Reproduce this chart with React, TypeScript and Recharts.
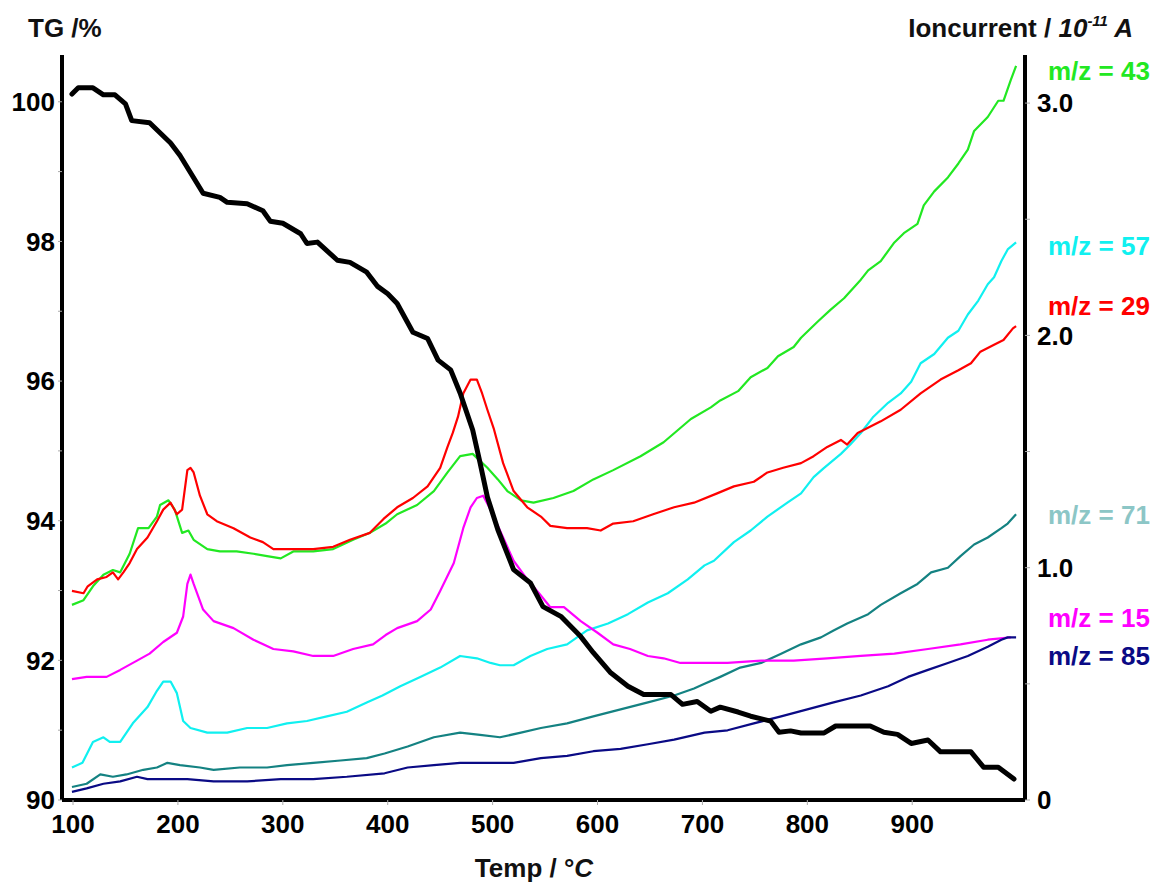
import { LineChart, Line, XAxis, YAxis } from "recharts";

const FONT = "'Liberation Sans', Arial, Helvetica, sans-serif";

// axis ticks
const tempTicks = [100, 200, 300, 400, 500, 600, 700, 800, 900];
const tgTicks = [90, 91, 92, 93, 94, 95, 96, 97, 98, 99, 100];
const ionTicks = [0, 0.5, 1, 1.5, 2, 2.5, 3];

// TG curve (%), left axis
const tgTemp = [99, 105, 119, 129, 140, 150, 156, 173, 193, 202, 224, 240, 247, 266, 281, 288, 300, 317, 323, 333, 352, 364, 380, 390, 400, 409, 424, 438, 448, 460, 469, 481, 488, 495, 505, 520, 536, 548, 565, 584, 596, 612, 629, 644, 670, 681, 695, 708, 717, 734, 746, 765, 773, 784, 794, 816, 827, 860, 873, 886, 899, 915, 927, 956, 968, 982, 997];
const tgValue = [100.11, 100.2, 100.2, 100.1, 100.1, 99.97, 99.73, 99.7, 99.41, 99.23, 98.69, 98.63, 98.56, 98.54, 98.44, 98.29, 98.26, 98.11, 97.97, 97.99, 97.73, 97.7, 97.56, 97.36, 97.25, 97.11, 96.7, 96.61, 96.3, 96.16, 95.83, 95.3, 94.83, 94.34, 93.87, 93.3, 93.11, 92.77, 92.63, 92.34, 92.11, 91.83, 91.63, 91.51, 91.51, 91.37, 91.41, 91.27, 91.33, 91.26, 91.2, 91.13, 90.97, 90.99, 90.96, 90.96, 91.06, 91.06, 90.97, 90.94, 90.81, 90.86, 90.69, 90.69, 90.47, 90.47, 90.3];

// ion currents (10^-11 A), right axis
const m43Temp = [99, 110, 119, 129, 138, 145, 154, 162, 172, 180, 183, 191, 197, 204, 210, 215, 228, 240, 256, 272, 285, 298, 310, 329, 348, 367, 383, 398, 409, 428, 444, 457, 469, 481, 488, 495, 505, 514, 527, 539, 558, 577, 596, 615, 641, 663, 689, 708, 717, 734, 746, 762, 772, 787, 794, 810, 822, 835, 851, 858, 870, 883, 892, 905, 911, 921, 934, 944, 953, 959, 972, 982, 987, 994, 999];
const m43Value = [0.84, 0.86, 0.92, 0.97, 0.99, 0.98, 1.06, 1.17, 1.17, 1.22, 1.27, 1.29, 1.25, 1.15, 1.16, 1.12, 1.08, 1.07, 1.07, 1.06, 1.05, 1.04, 1.07, 1.07, 1.08, 1.12, 1.15, 1.19, 1.23, 1.27, 1.33, 1.41, 1.48, 1.49, 1.46, 1.43, 1.38, 1.33, 1.29, 1.28, 1.3, 1.33, 1.38, 1.42, 1.48, 1.54, 1.64, 1.69, 1.72, 1.76, 1.82, 1.86, 1.91, 1.95, 1.99, 2.06, 2.11, 2.16, 2.24, 2.28, 2.32, 2.4, 2.44, 2.48, 2.56, 2.62, 2.68, 2.74, 2.8, 2.88, 2.94, 3.01, 3.01, 3.1, 3.16];

const m29Temp = [99, 110, 114, 123, 132, 138, 143, 148, 154, 161, 171, 180, 186, 193, 199, 204, 209, 212, 215, 221, 228, 237, 253, 269, 281, 291, 310, 329, 348, 364, 383, 396, 409, 424, 438, 450, 457, 462, 467, 472, 479, 485, 490, 495, 501, 510, 520, 533, 546, 555, 571, 590, 603, 615, 634, 653, 673, 692, 714, 730, 749, 762, 777, 794, 806, 819, 832, 838, 848, 870, 889, 908, 927, 944, 956, 965, 978, 987, 996, 999];
const m29Value = [0.9, 0.89, 0.92, 0.95, 0.96, 0.98, 0.95, 0.98, 1.02, 1.08, 1.13, 1.2, 1.25, 1.28, 1.23, 1.25, 1.42, 1.43, 1.41, 1.31, 1.23, 1.2, 1.17, 1.13, 1.11, 1.08, 1.08, 1.08, 1.09, 1.12, 1.15, 1.21, 1.26, 1.3, 1.35, 1.43, 1.52, 1.58, 1.65, 1.75, 1.81, 1.81, 1.75, 1.68, 1.6, 1.45, 1.33, 1.26, 1.22, 1.18, 1.17, 1.17, 1.16, 1.19, 1.2, 1.23, 1.26, 1.28, 1.32, 1.35, 1.37, 1.41, 1.43, 1.45, 1.48, 1.52, 1.55, 1.53, 1.58, 1.63, 1.68, 1.75, 1.81, 1.85, 1.88, 1.93, 1.96, 1.98, 2.03, 2.04];

const m15Temp = [99, 113, 132, 145, 161, 173, 186, 199, 205, 209, 212, 215, 224, 234, 253, 272, 291, 310, 329, 348, 367, 386, 398, 409, 428, 441, 450, 463, 472, 479, 485, 491, 498, 507, 520, 533, 546, 555, 568, 584, 600, 615, 631, 648, 663, 679, 706, 724, 756, 787, 819, 851, 883, 915, 946, 972, 994];
const m15Value = [0.52, 0.53, 0.53, 0.56, 0.6, 0.63, 0.68, 0.72, 0.79, 0.93, 0.97, 0.93, 0.82, 0.77, 0.74, 0.69, 0.65, 0.64, 0.62, 0.62, 0.65, 0.67, 0.71, 0.74, 0.77, 0.82, 0.9, 1.02, 1.17, 1.26, 1.3, 1.31, 1.25, 1.16, 1.03, 0.95, 0.88, 0.83, 0.83, 0.77, 0.72, 0.67, 0.65, 0.62, 0.61, 0.59, 0.59, 0.59, 0.6, 0.6, 0.61, 0.62, 0.63, 0.65, 0.67, 0.69, 0.7];

const m57Temp = [99, 109, 119, 129, 135, 145, 157, 171, 180, 186, 193, 199, 205, 212, 228, 247, 266, 285, 304, 323, 342, 361, 380, 395, 412, 431, 450, 469, 485, 498, 507, 520, 536, 552, 571, 590, 610, 629, 648, 667, 686, 702, 711, 730, 746, 762, 781, 794, 806, 816, 832, 841, 851, 863, 877, 889, 899, 908, 921, 934, 944, 953, 963, 972, 978, 985, 991, 999];
const m57Value = [0.14, 0.16, 0.25, 0.27, 0.25, 0.25, 0.33, 0.4, 0.47, 0.51, 0.51, 0.46, 0.34, 0.31, 0.29, 0.29, 0.31, 0.31, 0.33, 0.34, 0.36, 0.38, 0.42, 0.45, 0.49, 0.53, 0.57, 0.62, 0.61, 0.59, 0.58, 0.58, 0.62, 0.65, 0.67, 0.73, 0.76, 0.8, 0.85, 0.89, 0.95, 1.01, 1.03, 1.11, 1.16, 1.22, 1.28, 1.32, 1.39, 1.43, 1.49, 1.53, 1.58, 1.65, 1.71, 1.75, 1.8, 1.88, 1.92, 1.99, 2.02, 2.09, 2.15, 2.22, 2.25, 2.32, 2.37, 2.4];

const m71Temp = [99, 113, 126, 138, 151, 167, 180, 190, 202, 221, 234, 259, 285, 304, 329, 355, 380, 397, 419, 444, 469, 488, 507, 527, 546, 571, 596, 622, 648, 673, 692, 702, 717, 736, 756, 775, 794, 813, 825, 838, 858, 870, 889, 905, 918, 934, 946, 959, 972, 985, 991, 999];
const m71Value = [0.056, 0.07, 0.11, 0.1, 0.11, 0.13, 0.14, 0.16, 0.15, 0.14, 0.13, 0.14, 0.14, 0.15, 0.16, 0.17, 0.18, 0.2, 0.23, 0.27, 0.29, 0.28, 0.27, 0.29, 0.31, 0.33, 0.36, 0.39, 0.42, 0.45, 0.48, 0.5, 0.53, 0.57, 0.59, 0.63, 0.67, 0.7, 0.73, 0.76, 0.8, 0.84, 0.89, 0.93, 0.98, 1.0, 1.05, 1.1, 1.13, 1.17, 1.19, 1.23];

const m85Temp = [99, 113, 129, 145, 161, 171, 190, 209, 234, 266, 298, 329, 361, 397, 419, 444, 469, 495, 520, 546, 571, 596, 622, 648, 673, 702, 724, 749, 775, 800, 825, 851, 877, 896, 915, 934, 953, 972, 985, 991, 999];
const m85Value = [0.035, 0.05, 0.07, 0.08, 0.1, 0.09, 0.09, 0.09, 0.08, 0.08, 0.09, 0.09, 0.1, 0.115, 0.14, 0.15, 0.16, 0.16, 0.16, 0.18, 0.19, 0.21, 0.22, 0.24, 0.26, 0.29, 0.3, 0.33, 0.36, 0.39, 0.42, 0.45, 0.49, 0.53, 0.56, 0.59, 0.62, 0.66, 0.69, 0.7, 0.7];

const toPoints = (t: number[], v: number[]) => t.map((x, i) => ({ t: x, v: v[i] }));

const ionSeries = [
    { name: "m/z = 43", color: "#22e822", label: "#22e822", labelY: 80, data: toPoints(m43Temp, m43Value) },
    { name: "m/z = 57", color: "#10f0f0", label: "#10f0f0", labelY: 255, data: toPoints(m57Temp, m57Value) },
    { name: "m/z = 29", color: "#ff0000", label: "#ff0000", labelY: 315, data: toPoints(m29Temp, m29Value) },
    { name: "m/z = 71", color: "#148282", label: "#8cc6c6", labelY: 524, data: toPoints(m71Temp, m71Value) },
    { name: "m/z = 15", color: "#ff00ff", label: "#ff00ff", labelY: 627, data: toPoints(m15Temp, m15Value) },
    { name: "m/z = 85", color: "#0a0a85", label: "#0a0a85", labelY: 665, data: toPoints(m85Temp, m85Value) },
];

const tickStyle = { fill: "#000", fontSize: 26, fontWeight: 700, fontFamily: FONT };
const axisLineStyle = { stroke: "#000", strokeWidth: 4 };

export default function App() {
    return (
        <div style={{ position: "absolute", left: 0, top: 0, width: 1159, height: 885, background: "#fff" }}>
            <LineChart width={1159} height={885} margin={{ top: 55, right: 0, bottom: 0, left: 0 }}>
                <XAxis
                    type="number"
                    dataKey="t"
                    domain={[89.5, 1007.5]}
                    allowDataOverflow
                    ticks={tempTicks}
                    interval={0}
                    height={85}
                    axisLine={axisLineStyle}
                    tickLine={{ stroke: "#aaa" }}
                    tickSize={5}
                    tickMargin={10}
                    tick={tickStyle}
                />
                <YAxis
                    yAxisId="tg"
                    orientation="left"
                    width={62}
                    domain={[90, 100.67]}
                    allowDataOverflow
                    ticks={tgTicks}
                    interval={0}
                    tickFormatter={(v: number) => (v % 2 === 0 ? String(v) : "")}
                    axisLine={axisLineStyle}
                    tickLine={{ stroke: "#aaa" }}
                    tickSize={4}
                    tickMargin={3}
                    tick={tickStyle}
                />
                <YAxis
                    yAxisId="ion"
                    orientation="right"
                    width={134}
                    domain={[0, 3.207]}
                    allowDataOverflow
                    ticks={ionTicks}
                    interval={0}
                    tickFormatter={(v: number) => (v === 0 ? "0" : Number.isInteger(v) ? v.toFixed(1) : "")}
                    axisLine={axisLineStyle}
                    tickLine={{ stroke: "#aaa" }}
                    tickSize={5}
                    tickMargin={7}
                    tick={tickStyle}
                />
                {ionSeries.map((s) => (
                    <Line
                        key={s.name}
                        yAxisId="ion"
                        data={s.data}
                        dataKey="v"
                        type="linear"
                        stroke={s.color}
                        strokeWidth={2.2}
                        strokeLinejoin="round"
                        dot={false}
                        isAnimationActive={false}
                    />
                ))}
                <Line
                    yAxisId="tg"
                    data={toPoints(tgTemp, tgValue)}
                    dataKey="v"
                    type="linear"
                    stroke="#000"
                    strokeWidth={5}
                    strokeLinejoin="round"
                    strokeLinecap="round"
                    dot={false}
                    isAnimationActive={false}
                />
            </LineChart>

            <svg width={1159} height={885} style={{ position: "absolute", left: 0, top: 0, pointerEvents: "none" }}>
                <g fontFamily={FONT} fontWeight={700} fontSize={26}>
                    <text x={28} y={37} fill="#111">TG /%</text>
                    <text x={1133} y={37} fill="#111" textAnchor="end">
                        Ioncurrent /{" "}
                        <tspan fontStyle="italic">10</tspan>
                        <tspan fontStyle="italic" fontSize={15} dy={-11}>-11</tspan>
                        <tspan fontStyle="italic" dy={11}> A</tspan>
                    </text>
                    <text x={534} y={877} fill="#111" textAnchor="middle">
                        Temp / °<tspan fontStyle="italic">C</tspan>
                    </text>
                    {ionSeries.map((s) => (
                        <text key={s.name} x={1048} y={s.labelY} fill={s.label}>{s.name}</text>
                    ))}
                </g>
            </svg>
        </div>
    );
}
